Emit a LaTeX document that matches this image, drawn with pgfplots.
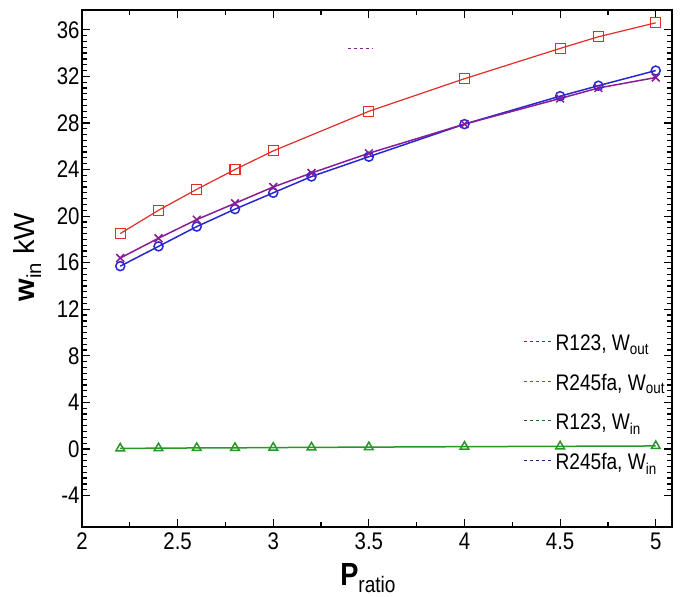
\documentclass[border=0pt]{standalone}
\usepackage{pgfplots}
\pgfplotsset{compat=1.18}
\usepackage{fontspec}
\setmainfont{Liberation Sans}[FakeStretch=0.85]
\newfontfamily\ylabfont{Liberation Sans}
\definecolor{cpurple}{RGB}{135,30,150}
\definecolor{cred}{RGB}{225,45,40}
\definecolor{cblue}{RGB}{40,40,210}
\definecolor{cgreen}{RGB}{40,150,40}
\definecolor{cnavy}{RGB}{30,30,120}
\definecolor{cdkred}{RGB}{140,30,80}
\pgfplotsset{
  dashleg/.style={legend image code/.code={\draw[#1, dashed, line width=1.1pt] (0pt,2pt) -- (30pt,2pt);}},
}
\begin{document}
\begin{tikzpicture}
\begin{axis}[
    scale only axis,
    width=590pt, height=517pt,
    xmin=2, xmax=5.085, ymin=-6.7, ymax=37.7,
    xtick={2,2.5,3,3.5,4,4.5,5},
    ytick={-4,0,4,8,12,16,20,24,28,32,36},
    minor x tick num=1, minor y tick num=7,
    tick align=inside,
    major tick length=8pt, minor tick length=5pt,
    every tick/.style={black, line width=1.2pt},
    axis line style={line width=2.5pt},
    /pgf/number format/assume math mode=true,
    tick label style={font=\fontsize{24}{27}\selectfont},
    xticklabel style={yshift=-2pt},
    yticklabel style={xshift=1pt},
    xlabel={\fontsize{32}{34}\selectfont\textbf{P}\textsubscript{ratio}},
    xlabel style={at={(axis description cs:0.485,0)}, anchor=base, yshift=-58pt},
    ylabel={\ylabfont\fontsize{29}{32}\selectfont\textbf{w}\textsubscript{in} kW},
    ylabel style={at={([xshift=-47pt]axis description cs:0,0.522)}, anchor=base},
    legend style={draw=none, fill=none, at={(0.742,0.378)}, anchor=north west,
      font=\fontsize{22.5}{25}\selectfont, row sep=19pt,
      nodes={inner sep=1.5pt}},
    legend cell align=left,
]
% R245fa W_out (red squares)
\addplot[cred, line width=1.2pt, mark=square, mark size=5pt, mark options={solid, fill=white}, forget plot]
  coordinates {(2.2,18.5)(2.4,20.5)(2.6,22.3)(2.8,24.0)(3.0,25.6)(3.5,29.0)(4.0,31.8)(4.5,34.4)(4.7,35.4)(5.0,36.6)};
% R245fa (blue circles)
\addplot[cblue, line width=1.5pt, mark=o, mark size=4.5pt, mark options={solid, fill=white}, forget plot]
  coordinates {(2.2,15.7)(2.4,17.4)(2.6,19.1)(2.8,20.6)(3.0,22.0)(3.2,23.4)(3.5,25.1)(4.0,27.9)(4.5,30.3)(4.7,31.2)(5.0,32.5)};
% R123 W_out (purple)
\addplot[cpurple, line width=1.5pt, mark=x, mark size=5.5pt, mark options={solid}, forget plot]
  coordinates {(2.2,16.4)(2.4,18.1)(2.6,19.7)(2.8,21.1)(3.0,22.5)(3.2,23.7)(3.5,25.4)(4.0,27.9)(4.5,30.1)(4.7,31.0)(5.0,31.9)};
% R123 W_in (green triangles)
\addplot[cgreen, line width=1.5pt, mark=triangle, mark size=5pt, mark options={solid, fill=white}, forget plot]
  coordinates {(2.2,0.05)(2.4,0.07)(2.6,0.09)(2.8,0.1)(3.0,0.12)(3.2,0.14)(3.5,0.16)(4.0,0.2)(4.5,0.23)(5.0,0.26)};
% stray legend fragment
\addplot[cpurple, dashed, line width=1.1pt, forget plot] coordinates {(3.39,34.4)(3.52,34.4)};
\addlegendimage{dashleg=cdkred}
\addlegendentry{R123, W\textsubscript{out}}
\addlegendimage{dashleg=cred}
\addlegendentry{R245fa, W\textsubscript{out}}
\addlegendimage{dashleg=cgreen!70!black}
\addlegendentry{R123, W\textsubscript{in}}
\addlegendimage{dashleg=cnavy}
\addlegendentry{R245fa, W\textsubscript{in}}
\end{axis}
\path (current axis.south west) ++(-82pt,-67pt);
\path (current axis.north east) ++(11pt,10pt);
\end{tikzpicture}
\end{document}
